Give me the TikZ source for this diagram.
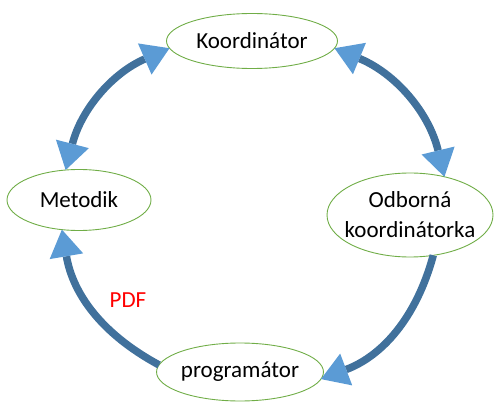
\documentclass[tikz,border=0pt]{standalone}
\usepackage{fontspec}
\setmainfont{Carlito}
\usetikzlibrary{shapes.geometric}
\usetikzlibrary{arrows.meta}
\definecolor{rimgreen}{HTML}{70AD47}
\definecolor{arcblue}{HTML}{41719C}
\definecolor{tipblue}{HTML}{5B9BD5}
\tikzset{role/.style = {ellipse, draw = rimgreen, line width = 0.9pt, inner sep = 0, outer sep = 0,
                        align = center, font = \fontsize{23}{30}\selectfont}}
\tikzset{cyc/.style = {draw = arcblue, line width = 7.5pt,
                       >={Triangle[length = 27pt, width = 34pt, line width = 0pt, color = tipblue]}}}

\begin{document}
\begin{tikzpicture}[x = 1pt, y = 1pt]
    \useasboundingbox (0, 0) rectangle (498, 402);

    \node [role, minimum width = 171pt, minimum height = 55pt] (koord) at (252, 361) {Koordinátor};
    \node [role, minimum width = 144pt, minimum height = 61pt] (metodik) at (79, 202) {Metodik};
    \node [role, inner xsep = -14pt, minimum width = 166pt, minimum height = 84pt] (odborna) at (410, 187) {Odborná\\koordinátorka};
    \node [role, minimum width = 166pt, minimum height = 58pt] (prog) at (240, 30) {programátor};

    \draw [cyc, <->] (koord.185) to [bend right = 26] (metodik.114);
    \draw [cyc, <->] (koord.355) to [bend left = 27] (odborna.48);
    \draw [cyc, ->] (odborna.300) to [bend left = 27] (prog.355);
    \draw [cyc, ->] (prog.175) to [bend left = 26] (metodik.240);

    \node [text = red, font = \fontsize{23}{30}\selectfont] (pdf) at (128, 102) {PDF};
  \end{tikzpicture}
\end{document}
